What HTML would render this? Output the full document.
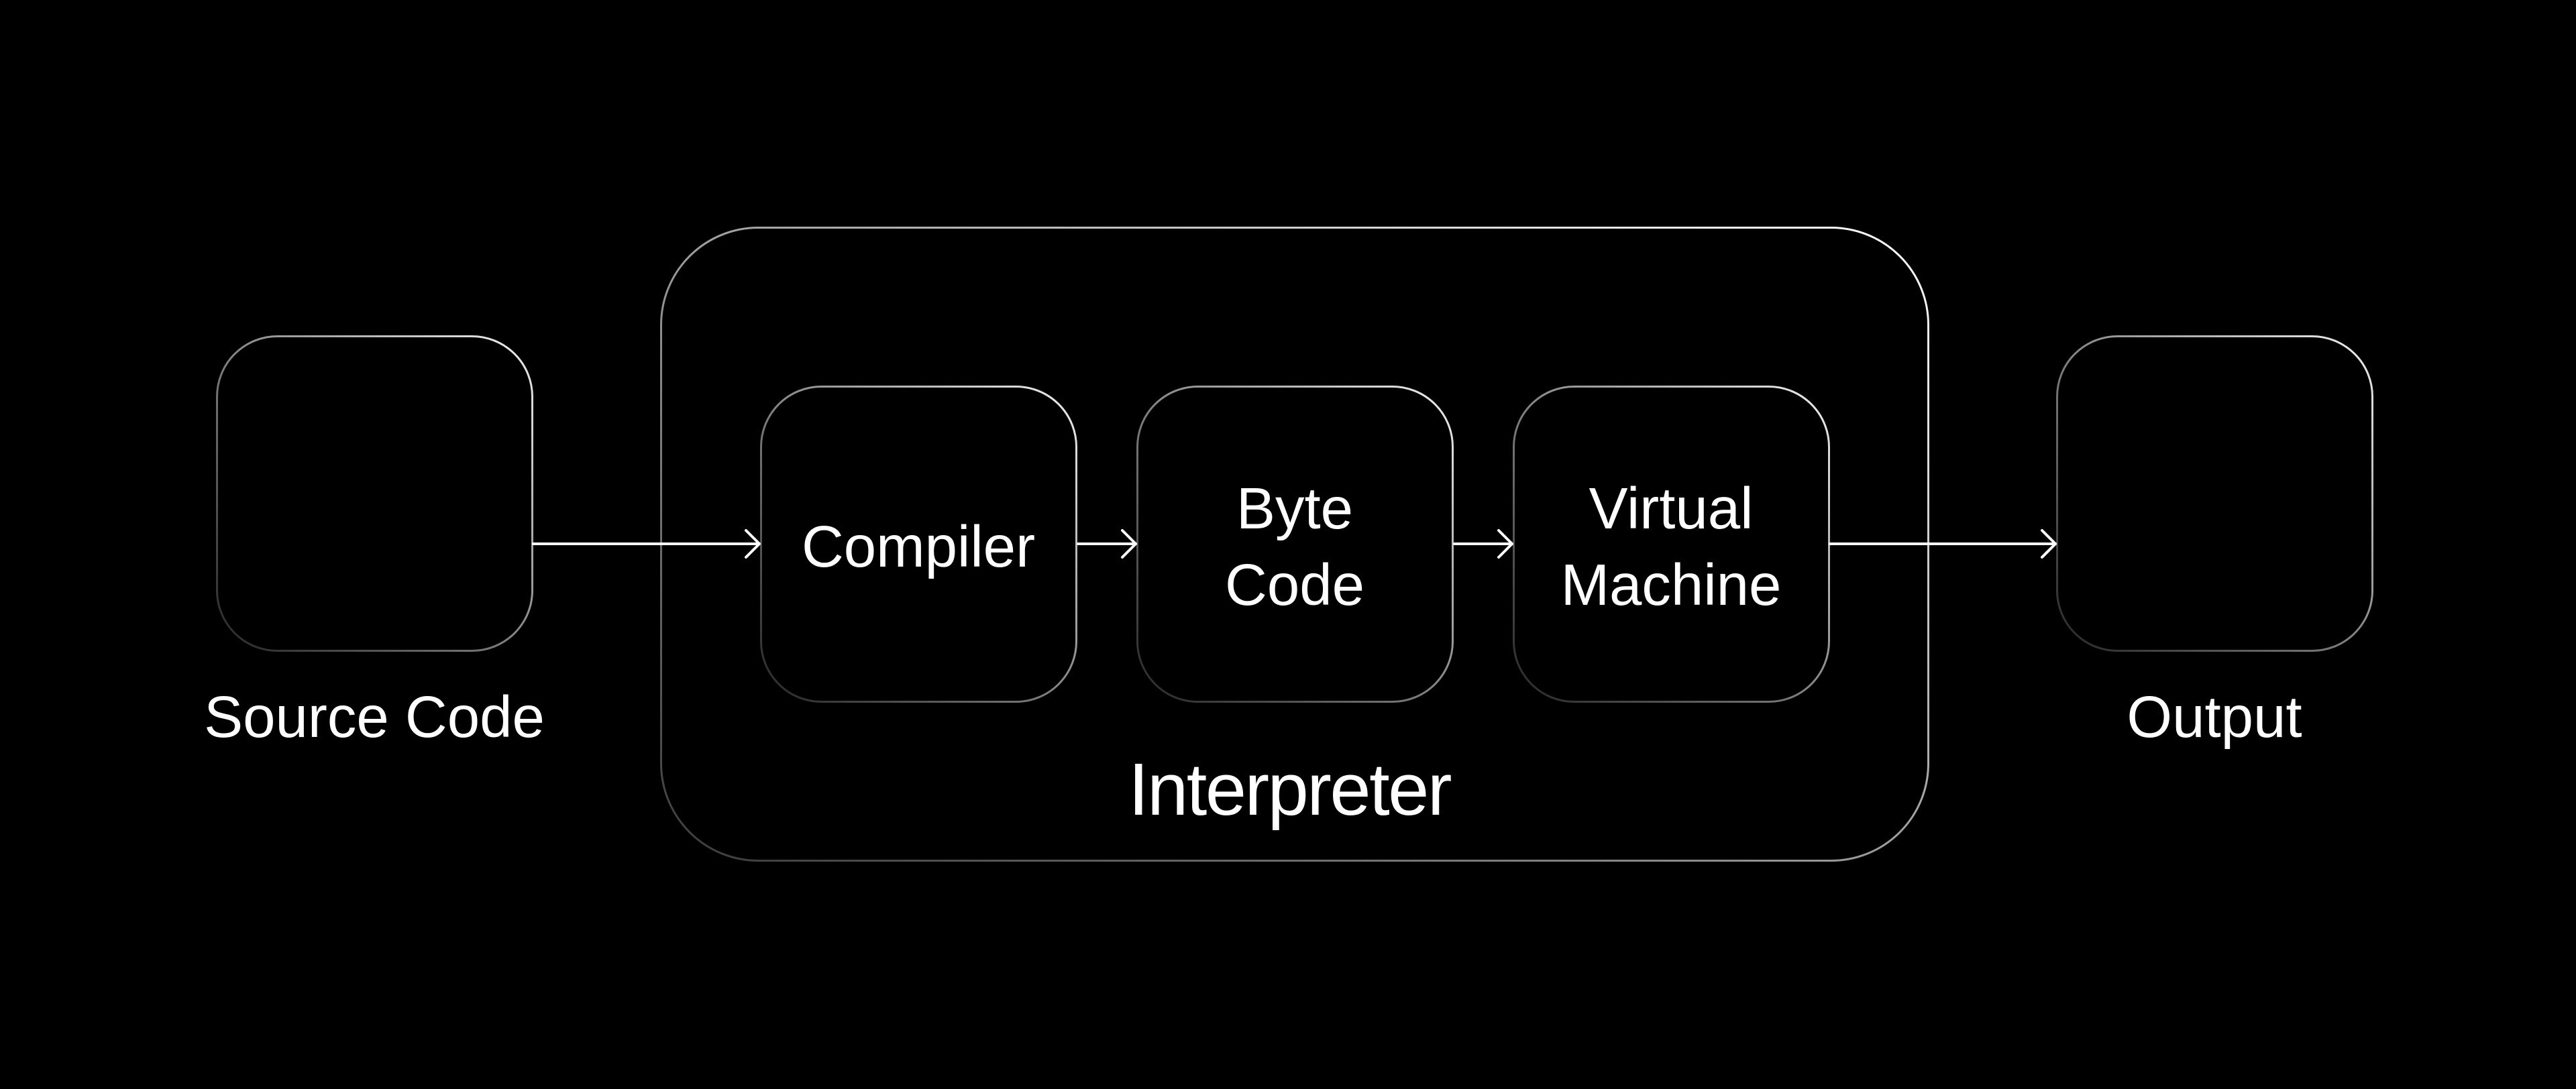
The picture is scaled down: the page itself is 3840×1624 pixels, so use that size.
<!DOCTYPE html>
<html>
<head>
<meta charset="utf-8">
<style>
  html, body { margin: 0; padding: 0; background: #000; }
  body { width: 3840px; height: 1624px; overflow: hidden; }
  svg { display: block; }
  text { font-family: "Liberation Sans", Arial, sans-serif; fill: #fff; }
</style>
</head>
<body>
<svg width="3840" height="1624" viewBox="0 0 3840 1624" xmlns="http://www.w3.org/2000/svg">
  <defs>
    <linearGradient id="g" x1="0" y1="1" x2="1" y2="0" gradientUnits="objectBoundingBox">
      <stop offset="0" stop-color="#262626"/>
      <stop offset="0.45" stop-color="#7a7a7a"/>
      <stop offset="1" stop-color="#f0f0f0"/>
    </linearGradient>
    <linearGradient id="go" x1="0" y1="1" x2="1" y2="0" gradientUnits="objectBoundingBox">
      <stop offset="0" stop-color="#3a3a3a"/>
      <stop offset="0.4" stop-color="#8a8a8a"/>
      <stop offset="1" stop-color="#ffffff"/>
    </linearGradient>
  </defs>
  <rect x="0" y="0" width="3840" height="1624" fill="#000"/>

  <!-- Interpreter outer box -->
  <rect x="985.5" y="339.5" width="1889" height="944" rx="145" ry="145" fill="none" stroke="url(#go)" stroke-width="3"/>

  <!-- Source box -->
  <rect x="323.5" y="501.5" width="470" height="469" rx="90" ry="90" fill="none" stroke="url(#g)" stroke-width="3"/>
  <!-- Output box -->
  <rect x="3066.5" y="501.5" width="470" height="469" rx="90" ry="90" fill="none" stroke="url(#g)" stroke-width="3"/>

  <!-- Inner boxes -->
  <rect x="1134.5" y="576.5" width="470" height="470" rx="90" ry="90" fill="none" stroke="url(#g)" stroke-width="3"/>
  <rect x="1695.5" y="576.5" width="470" height="470" rx="90" ry="90" fill="none" stroke="url(#g)" stroke-width="3"/>
  <rect x="2256.5" y="576.5" width="470" height="470" rx="90" ry="90" fill="none" stroke="url(#g)" stroke-width="3"/>

  <!-- Arrows -->
  <g stroke="#fff" stroke-width="4" fill="none" stroke-linecap="round" stroke-linejoin="round">
    <line x1="795" y1="811" x2="1132" y2="811"/>
    <polyline points="1112,791 1132,811 1112,831"/>

    <line x1="1607" y1="811" x2="1693" y2="811"/>
    <polyline points="1673,791 1693,811 1673,831"/>

    <line x1="2168" y1="811" x2="2254" y2="811"/>
    <polyline points="2234,791 2254,811 2234,831"/>

    <line x1="2728" y1="811" x2="3064" y2="811"/>
    <polyline points="3044,791 3064,811 3044,831"/>
  </g>

  <!-- Labels -->
  <text x="558" y="1099" font-size="87" text-anchor="middle">Source Code</text>
  <text x="3301" y="1099" font-size="87" text-anchor="middle">Output</text>
  <text x="1369" y="845" font-size="87" text-anchor="middle">Compiler</text>
  <text x="1930" y="788" font-size="87" text-anchor="middle">Byte</text>
  <text x="1930" y="902" font-size="87" text-anchor="middle">Code</text>
  <text x="2491" y="788" font-size="87" text-anchor="middle">Virtual</text>
  <text x="2491" y="902" font-size="87" text-anchor="middle">Machine</text>
  <text x="1922" y="1215" font-size="110" letter-spacing="-2.5" text-anchor="middle">Interpreter</text>
</svg>
</body>
</html>
